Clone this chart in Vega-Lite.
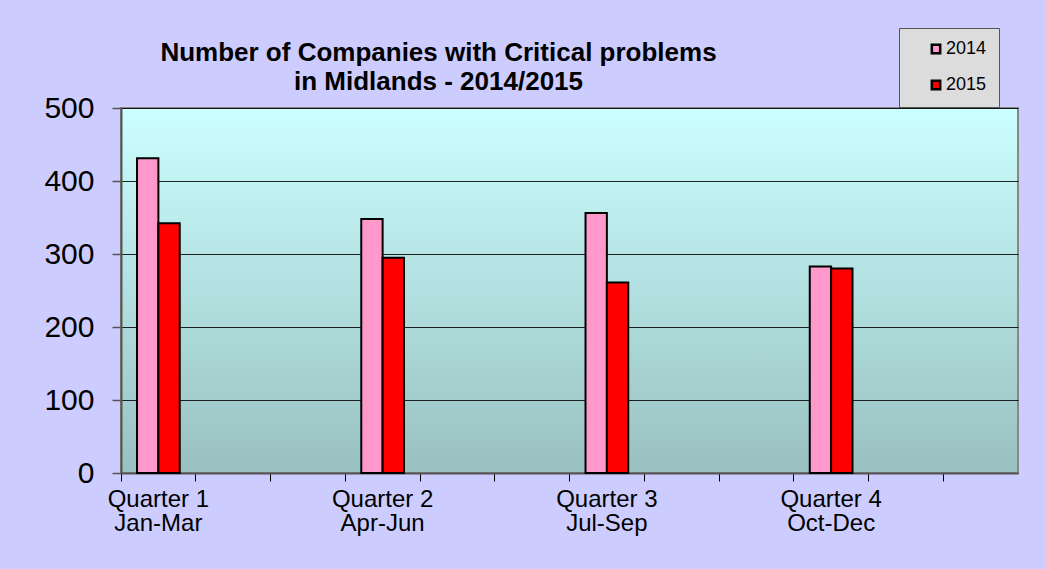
{
  "$schema": "https://vega.github.io/schema/vega-lite/v6.json",
  "autosize": "none",
  "width": 897,
  "height": 365,
  "padding": {"left": 121, "top": 108, "right": 27, "bottom": 96},
  "background": "#CCCCFF",
  "title": {
    "text": ["Number of Companies with Critical problems", "in Midlands - 2014/2015"],
    "font": "Liberation Sans",
    "fontSize": 26,
    "fontWeight": "bold",
    "color": "#000000",
    "lineHeight": 29,
    "anchor": "middle",
    "dx": -131,
    "offset": -67
  },
  "data": {
    "values": [
      {"quarter": "Quarter 1|Jan-Mar", "year": "2014", "companies": 431},
      {"quarter": "Quarter 1|Jan-Mar", "year": "2015", "companies": 342},
      {"quarter": "Quarter 2|Apr-Jun", "year": "2014", "companies": 348},
      {"quarter": "Quarter 2|Apr-Jun", "year": "2015", "companies": 295},
      {"quarter": "Quarter 3|Jul-Sep", "year": "2014", "companies": 356},
      {"quarter": "Quarter 3|Jul-Sep", "year": "2015", "companies": 261},
      {"quarter": "Quarter 4|Oct-Dec", "year": "2014", "companies": 283},
      {"quarter": "Quarter 4|Oct-Dec", "year": "2015", "companies": 280}
    ]
  },
  "mark": {"type": "bar", "stroke": "#000000", "strokeWidth": 2},
  "encoding": {
    "x": {
      "field": "quarter",
      "type": "nominal",
      "sort": null,
      "scale": {
        "domain": ["Quarter 1|Jan-Mar", "b2", "b3", "Quarter 2|Apr-Jun", "b5", "b6", "Quarter 3|Jul-Sep", "b8", "b9", "Quarter 4|Oct-Dec", "b11", "b12"],
        "paddingInner": 0,
        "paddingOuter": 0
      },
      "axis": {
        "title": null,
        "labelAngle": 0,
        "labelExpr": "indexof(datum.value, '|') >= 0 ? split(datum.value, '|') : ''",
        "labelFont": "Liberation Sans",
        "labelFontSize": 24,
        "labelLineHeight": 24,
        "labelColor": "#000000",
        "labelPadding": 6,
        "bandPosition": 0,
        "tickColor": "#000000",
        "tickSize": 8,
        "tickWidth": 1,
        "domainColor": "#555555",
        "domainWidth": 2,
        "grid": false
      }
    },
    "xOffset": {
      "field": "year",
      "type": "nominal",
      "scale": {"paddingInner": 0, "paddingOuter": 0.75}
    },
    "y": {
      "field": "companies",
      "type": "quantitative",
      "scale": {"domain": [0, 500], "nice": false},
      "axis": {
        "title": null,
        "values": [0, 100, 200, 300, 400, 500],
        "labelFont": "Liberation Sans",
        "labelFontSize": 30,
        "labelColor": "#000000",
        "labelPadding": 18,
        "tickSize": 9,
        "tickColor": "#555555",
        "tickWidth": 1.5,
        "domainColor": "#555555",
        "domainWidth": 2,
        "grid": true,
        "gridColor": "#000000",
        "gridWidth": 1,
        "gridOpacity": 0.85
      }
    },
    "color": {
      "field": "year",
      "type": "nominal",
      "scale": {"domain": ["2014", "2015"], "range": ["#FF99CC", "#FF0000"]},
      "legend": {
        "title": null,
        "orient": "none",
        "legendX": 778,
        "legendY": -80,
        "symbolType": "square",
        "symbolSize": 70,
        "symbolStrokeColor": "#000000",
        "symbolStrokeWidth": 2.5,
        "symbolOffset": 16,
        "labelFont": "Liberation Sans",
        "labelFontSize": 18,
        "labelColor": "#000000",
        "labelOffset": 1,
        "rowPadding": 16,
        "padding": 12,
        "fillColor": "#DCDCDC",
        "strokeColor": "#555555"
      }
    }
  },
  "config": {
    "view": {
      "fill": {
        "gradient": "linear",
        "x1": 0, "y1": 0, "x2": 0, "y2": 1,
        "stops": [
          {"offset": 0, "color": "#CCFFFF"},
          {"offset": 1, "color": "#99C0C0"}
        ]
      },
      "stroke": "#888888",
      "strokeWidth": 2
    }
  }
}
